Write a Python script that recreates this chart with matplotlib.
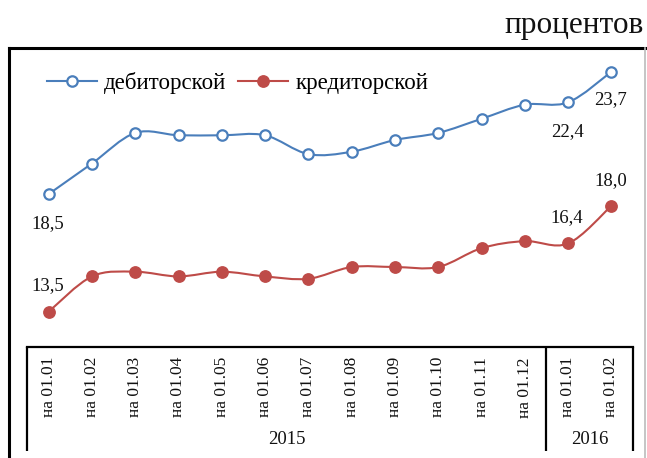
import matplotlib
matplotlib.use("Agg")
import matplotlib.pyplot as plt
from matplotlib.path import Path
from matplotlib.patches import PathPatch
from matplotlib.lines import Line2D
import numpy as np

plt.rcParams['font.family'] = ['Liberation Serif', 'DejaVu Serif']

# ---- data ----
tick_labels = ["на 01.01", "на 01.02", "на 01.03", "на 01.04", "на 01.05", "на 01.06",
               "на 01.07", "на 01.08", "на 01.09", "на 01.10", "на 01.11", "на 01.12",
               "на 01.01", "на 01.02"]
years = ["2015", "2016"]
year_counts = [12, 2]
debit = [18.5, 19.8, 21.1, 21.0, 21.0, 21.0, 20.2, 20.3, 20.8, 21.1, 21.7, 22.3, 22.4, 23.7]
credit = [13.5, 15.0, 15.2, 15.0, 15.2, 15.0, 14.9, 15.4, 15.4, 15.4, 16.2, 16.5, 16.4, 18.0]
series_names = ["дебиторской", "кредиторской"]
unit_label = "процентов"

BLUE = "#4A7EBB"
RED = "#BE4B48"

W, H = 647, 458
fig = plt.figure(figsize=(W / 100, H / 100), dpi=100)

def fx(px):
    return px / W

def fy(py):
    return 1 - py / H

ax_l, ax_r, ax_t, ax_b = 27, 633, 60, 347
ax = fig.add_axes([fx(ax_l), fy(ax_b), fx(ax_r) - fx(ax_l), fy(ax_t) - fy(ax_b)])
n = len(debit)
ax.set_xlim(-0.5, n - 0.5)
ax.set_ylim(12.0, 24.2)
for s in ["top", "left", "right"]:
    ax.spines[s].set_visible(False)
ax.spines["bottom"].set_linewidth(1.6)
ax.spines["bottom"].set_color("black")
ax.set_yticks([])
ax.set_xticks(range(n))
ax.set_xticklabels([])
ax.tick_params(axis="x", length=0)


def smooth_path(xs, ys):
    xs = np.asarray(xs, float)
    ys = np.asarray(ys, float)
    pts = np.column_stack([xs, ys])
    verts = [pts[0]]
    codes = [Path.MOVETO]
    for i in range(len(pts) - 1):
        p0 = pts[i - 1] if i > 0 else pts[i]
        p1 = pts[i]
        p2 = pts[i + 1]
        p3 = pts[i + 2] if i + 2 < len(pts) else pts[i + 1]
        c1 = p1 + (p2 - p0) / 6.0
        c2 = p2 - (p3 - p1) / 6.0
        verts += [c1, c2, p2]
        codes += [Path.CURVE4] * 3
    return Path(verts, codes)


xs = np.arange(n)
for vals, col in [(debit, BLUE), (credit, RED)]:
    ax.add_patch(PathPatch(smooth_path(xs, vals), facecolor="none", edgecolor=col,
                           lw=1.5, transform=ax.transData, zorder=2))

ax.plot(xs, debit, ls="none", marker="o", ms=7.5, mfc="white", mec=BLUE, mew=1.6, zorder=3)
ax.plot(xs, credit, ls="none", marker="o", ms=8.2, mfc=RED, mec=RED, mew=1, zorder=3)

# data labels
lab_fs = 13.5
def lab(i, vals, dy):
    ax.annotate(f"{vals[i]:.1f}".replace(".", ","), (xs[i], vals[i]),
                xytext=(-1, dy), textcoords="offset pixels", ha="center", va="center",
                fontsize=lab_fs, color="#111111")

lab(0, debit, -30)
lab(12, debit, -29)
lab(13, debit, -28)
lab(0, credit, 26)
lab(12, credit, 26)
lab(13, credit, 25)

# legend
handles = [Line2D([0], [0], color=BLUE, lw=1.5, marker="o", ms=7.5, mfc="white", mec=BLUE, mew=1.6),
           Line2D([0], [0], color=RED, lw=1.5, marker="o", ms=8.2, mfc=RED, mec=RED)]
leg = fig.legend(handles, series_names, loc="center left", bbox_to_anchor=(fx(47), fy(83)),
                 ncol=2, frameon=False, fontsize=16.5, handlelength=2.2, handletextpad=0.3,
                 columnspacing=0.5, borderaxespad=0, borderpad=0)

# tick labels (rotated)
for i, t in enumerate(tick_labels):
    ax.annotate(t, (xs[i], 0), xycoords=("data", "axes fraction"),
                xytext=(0, -10), textcoords="offset pixels", rotation=90,
                ha="center", va="top", fontsize=12.5, color="#111111")

# year group separators and labels
bounds = np.concatenate([[0], np.cumsum(year_counts)]) - 0.5
for b in bounds:
    ax.plot([b, b], [0, -104 / (ax_b - ax_t)], transform=ax.get_xaxis_transform(),
            color="black", lw=1.6, clip_on=False, solid_capstyle="butt")
for k, y in enumerate(years):
    c = (bounds[k] + bounds[k + 1]) / 2
    ax.annotate(y, (c, 0), xycoords=("data", "axes fraction"),
                xytext=(0, -93), textcoords="offset pixels", ha="center", va="center",
                fontsize=13.5, color="#111111")

# outer frame
fig.add_artist(Line2D([fx(8.5), fx(8.5)], [fy(47.5), 0], color="black", lw=2.2))
fig.add_artist(Line2D([fx(8.5), fx(645)], [fy(47.5), fy(47.5)], color="black", lw=2.2))
fig.add_artist(Line2D([fx(645), fx(645)], [fy(47.5), 0], color="#BBBBBB", lw=1.2))

# unit label
fig.text(fx(644), fy(25), unit_label, ha="right", va="center", fontsize=22.5, color="#111111")

fig.savefig("out.png", dpi=100)
